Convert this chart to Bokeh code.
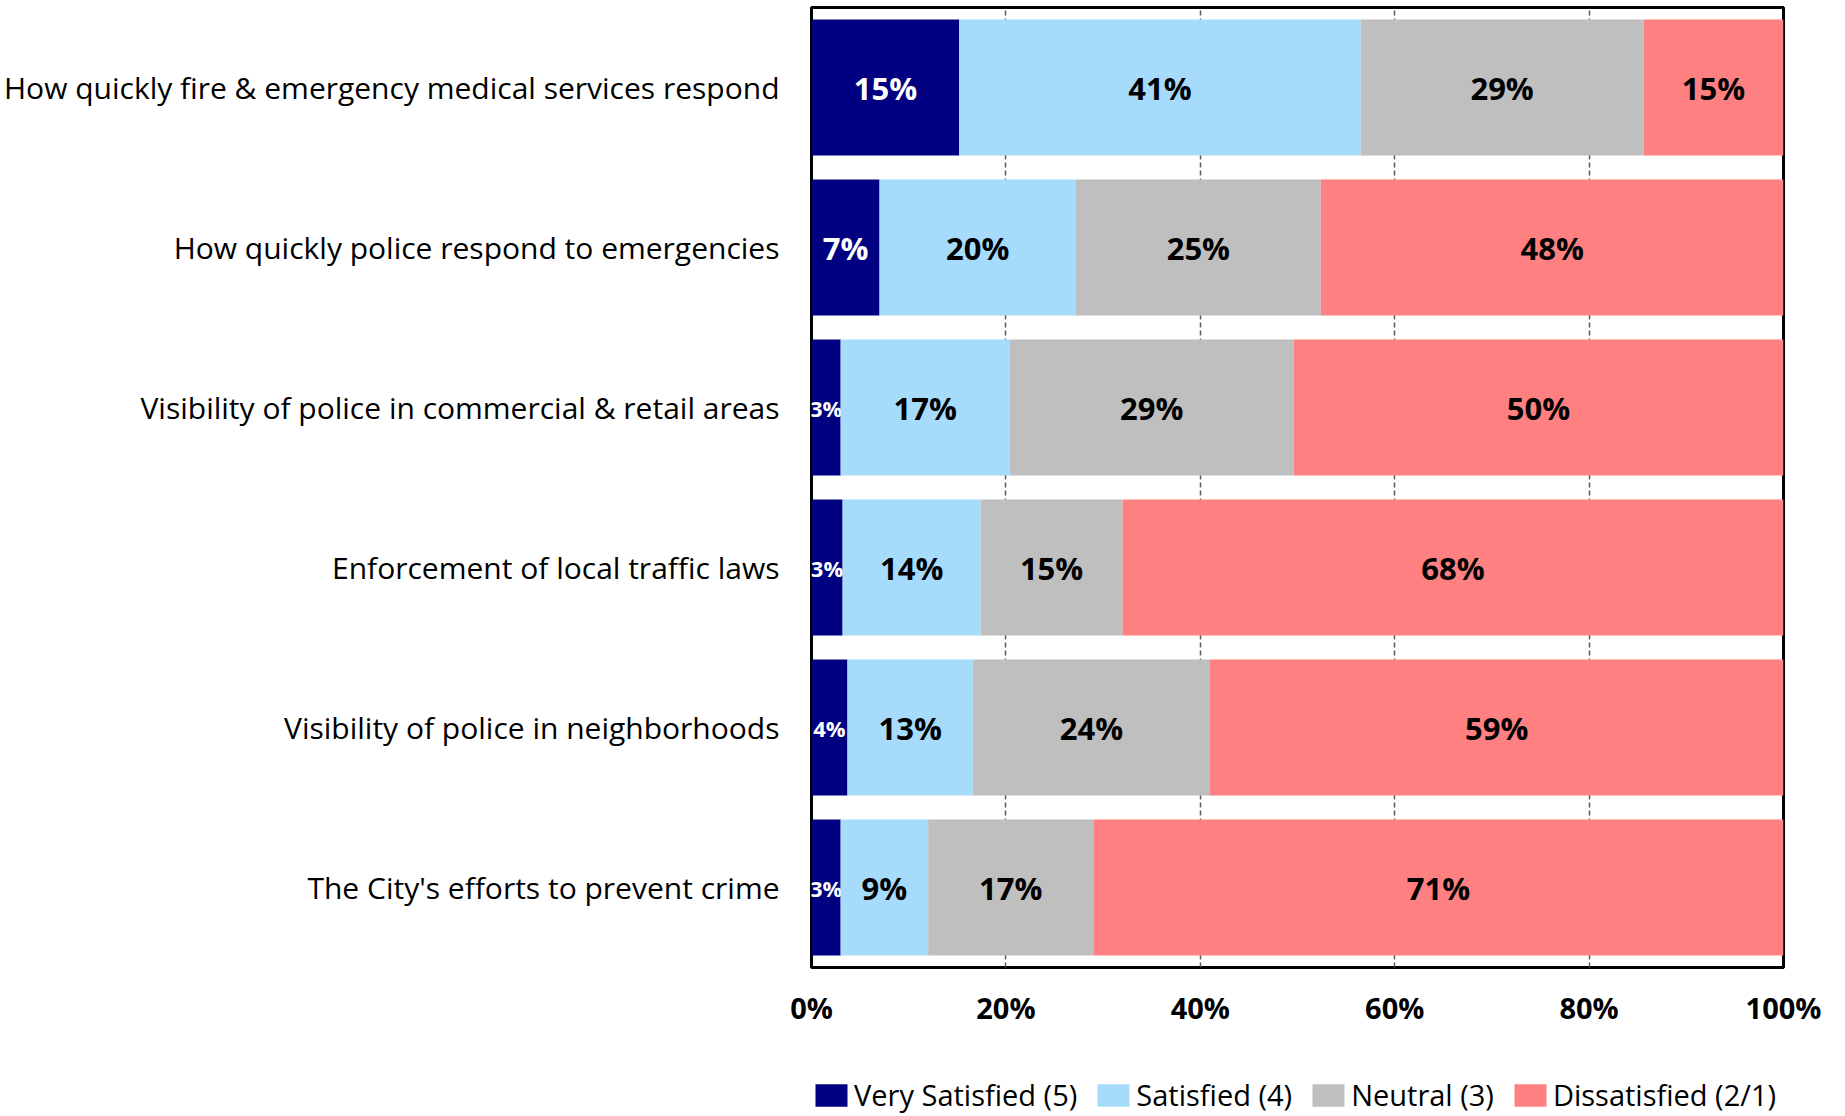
import numpy as np
from bokeh.plotting import figure
from bokeh.layouts import column
from bokeh.models import ColumnDataSource, FactorRange, Range1d, FixedTicker, Legend
from bokeh.core.properties import value
from bokeh.embed import file_html
from bokeh.resources import INLINE

categories = [
    "How quickly fire & emergency medical services respond",
    "How quickly police respond to emergencies",
    "Visibility of police in commercial & retail areas",
    "Enforcement of local traffic laws",
    "Visibility of police in neighborhoods",
    "The City's efforts to prevent crime",
]
series_names = ["Very Satisfied (5)", "Satisfied (4)", "Neutral (3)", "Dissatisfied (2/1)"]
series_colors = ["#000080", "#A6DBFC", "#BFBFBF", "#FF8080"]
label_colors = ["white", "black", "black", "black"]

very_satisfied = [15.2, 7.0, 3.0, 3.2, 3.7, 3.0]
satisfied = [41.3, 20.2, 17.4, 14.2, 12.9, 9.0]
neutral = [29.1, 25.2, 29.2, 14.6, 24.4, 17.0]
dissatisfied = [14.4, 47.6, 50.4, 68.0, 59.0, 71.0]

very_satisfied_labels = ["15%", "7%", "3%", "3%", "4%", "3%"]
satisfied_labels = ["41%", "20%", "17%", "14%", "13%", "9%"]
neutral_labels = ["29%", "25%", "29%", "15%", "24%", "17%"]
dissatisfied_labels = ["15%", "48%", "50%", "68%", "59%", "71%"]

x_ticks = [0, 20, 40, 60, 80, 100]
x_tick_labels = ["0%", "20%", "40%", "60%", "80%", "100%"]

series_values = [very_satisfied, satisfied, neutral, dissatisfied]
series_labels = [very_satisfied_labels, satisfied_labels, neutral_labels, dissatisfied_labels]

W = 1837
p = figure(
    y_range=FactorRange(factors=list(reversed(categories)), range_padding=0),
    x_range=Range1d(0, 100),
    frame_width=972, frame_height=960,
    min_border_left=810, min_border_right=W - 810 - 972, min_border_top=7, min_border_bottom=63,
    output_backend="svg", toolbar_location=None,
)

left = np.zeros(len(categories))
for name, color, vals, labs, lcol in zip(series_names, series_colors, series_values, series_labels, label_colors):
    vals = np.array(vals, dtype=float)
    right = left + vals
    src = ColumnDataSource(dict(
        y=categories, left=left.copy(), right=right.copy(),
        mid=(left + right) / 2, lab=labs,
        fs=["22px" if v < 5 else "31px" for v in vals],
    ))
    p.hbar(y="y", left="left", right="right", height=0.85, source=src,
           fill_color=color, line_color=None)
    p.text(x="mid", y="y", text="lab", source=src, text_align="center",
           text_baseline="middle", text_font=value("Open Sans"), text_font_style="bold",
           text_font_size="fs", text_color=lcol)
    left = right

p.outline_line_color = "black"
p.outline_line_width = 3
p.background_fill_color = "white"
p.border_fill_color = "white"

p.ygrid.grid_line_color = None
p.xgrid.ticker = FixedTicker(ticks=[20, 40, 60, 80])
p.xgrid.grid_line_color = "#595959"
p.xgrid.grid_line_width = 1.5
p.xgrid.grid_line_dash = "5 3"

p.xaxis.ticker = FixedTicker(ticks=x_ticks)
p.xaxis.major_label_overrides = {t: l for t, l in zip(x_ticks, x_tick_labels)}
p.xaxis.major_label_text_font = "Open Sans"
p.xaxis.major_label_text_font_style = "bold"
p.xaxis.major_label_text_font_size = "29px"
p.xaxis.major_label_text_color = "black"
p.xaxis.major_label_standoff = 14

p.yaxis.major_label_text_font = "Open Sans"
p.yaxis.major_label_text_font_size = "30px"
p.yaxis.major_label_text_color = "black"
p.yaxis.major_label_standoff = 26

for ax in (p.xaxis, p.yaxis):
    ax.axis_line_color = None
    ax.major_tick_line_color = None
    ax.minor_tick_line_color = None

# legend strip below the chart (its frame lines up with the chart frame)
QH = 84
q = figure(width=W, height=QH, x_range=Range1d(0, 1), y_range=Range1d(0, 1),
           x_axis_location=None, y_axis_location=None, min_border=0,
           output_backend="svg", toolbar_location=None)
q.grid.visible = False
q.outline_line_color = None
q.background_fill_color = "white"
q.border_fill_color = "white"

items = []
for name, color in zip(series_names, series_colors):
    # legend proxy: one bar placed outside the visible range of the strip
    r = q.hbar(y=[-5], left=[0], right=[1], height=1, fill_color=color, line_color=None)
    items.append((name, [r]))

legend = Legend(
    items=items, orientation="horizontal", location=(0, 0),
    padding=0, margin=0, spacing=16, glyph_width=40, glyph_height=28,
    label_standoff=3, border_line_color=None, background_fill_alpha=0,
    label_text_font="Open Sans", label_text_font_size="29px", label_text_color="black",
)
q.add_layout(legend, "center")

open("out.html", "w").write(file_html(column(p, q, spacing=0), INLINE))
